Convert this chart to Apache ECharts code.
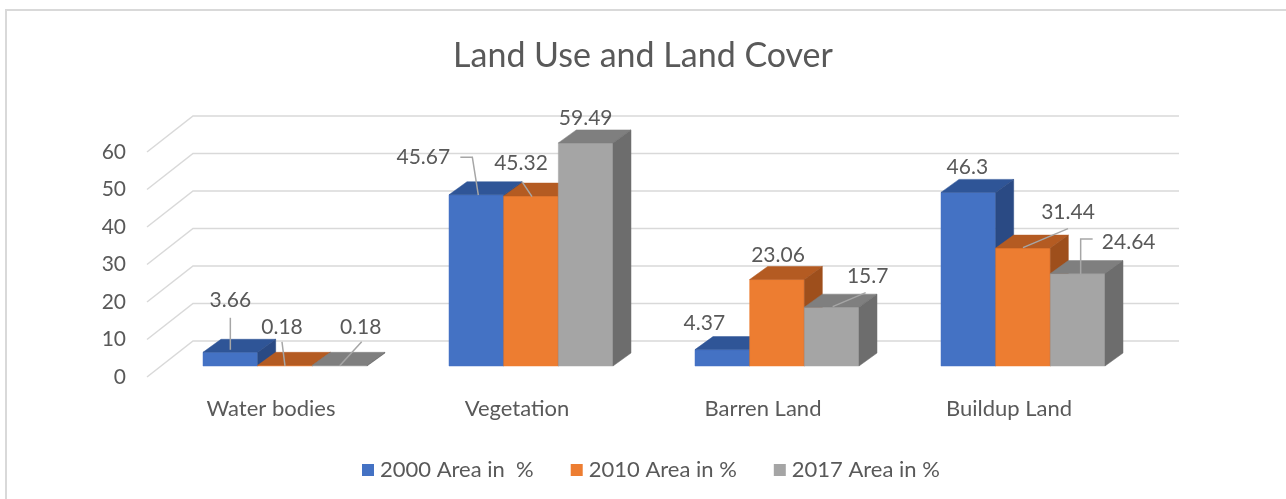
<!DOCTYPE html>
<html><head><meta charset="utf-8">
<script src="https://cdn.jsdelivr.net/npm/echarts@6/dist/echarts.min.js"></script>
<style>html,body{margin:0;padding:0;background:#fff}#c{width:1286px;height:499px}</style>
</head><body><div id="c"></div>
<script>
// ---- data ----
const categories = ['Water bodies', 'Vegetation', 'Barren Land', 'Buildup Land'];
const seriesNames = ['2000 Area in  %', '2010 Area in %', '2017 Area in %'];
const area2000 = [3.66, 45.67, 4.37, 46.3];
const area2010 = [0.18, 45.32, 23.06, 31.44];
const area2017 = [0.18, 59.49, 15.7, 24.64];
const yTicks = [0, 10, 20, 30, 40, 50, 60];

// ---- styles ----
const FONT = 'Lato';
const TEXT = '#595959';
const GRID_C = '#D9D9D9';
const COLORS = [
  {front: '#4472C4', top: '#2F5597', side: '#2A4A84'},
  {front: '#ED7D31', top: '#B45B22', side: '#9E4F1C'},
  {front: '#A5A5A5', top: '#7F7F7F', side: '#6D6D6D'}
];
const GROUP_FRAC = 164 / 246;   // share of the category band used by the 3 bars
const FRONT_DX = 14, FRONT_DY = -11; // bars sit a bit behind the front plane
const BAR_DX = 18, BAR_DY = -13;     // bar depth
const FLOOR_DX = 46, FLOOR_DY = -36; // wall depth
// label offsets relative to the centre of each bar's top face
const LABEL_OFFSETS = [
  [[-9, -46], [-62, -31], [-27, -20], [-10, -19]],
  [[-12, -32], [-19, -26], [-8, -18], [36, -29]],
  [[12, -32], [-9, -18], [27, -24], [42, -25]]
];
const LEADERS = [
  [[[-9, -28], [-9, 4]], [[-25, -31], [-13, -31], [-7, 7]], null, null],
  [[[-12, -17], [-9, 7]], [[-18, -8], [-8, 7]], null, [[36, -13], [-9, 6]]],
  [[[13, -17], [-9, 7]], null, [[25, -8], [-8, 6]], [[6, -28], [-6, -28], [-6, 7]]]
];

const allValues = [area2000, area2010, area2017];

function barRender(s) {
  return function (params, api) {
    const i = api.value(0), v = api.value(1);
    const base = api.coord([i, 0]);
    const top = api.coord([i, v]);
    const band = api.size([1, 0])[0];
    const bw = band * GROUP_FRAC / 3;
    const x1 = base[0] - band * GROUP_FRAC / 2 + s * bw + FRONT_DX;
    const x2 = x1 + bw;
    const y0 = base[1] + FRONT_DY;
    const y1 = top[1] + FRONT_DY;
    const c = COLORS[s];
    const dx = BAR_DX, dy = BAR_DY;
    const children = [
      {type: 'polygon', shape: {points: [[x1, y1], [x2, y1], [x2, y0], [x1, y0]]},
        style: {fill: c.front, stroke: c.front, lineWidth: 0.5}},
      {type: 'polygon', shape: {points: [[x1, y1], [x2, y1], [x2 + dx, y1 + dy], [x1 + dx, y1 + dy]]},
        style: {fill: c.top, stroke: c.top, lineWidth: 0.5}},
      {type: 'polygon', shape: {points: [[x2, y1], [x2 + dx, y1 + dy], [x2 + dx, y0 + dy], [x2, y0]]},
        style: {fill: c.side, stroke: c.side, lineWidth: 0.5}}
    ];
    const cx = (x1 + x2) / 2 + dx / 2, cy = y1 + dy / 2;
    const off = LABEL_OFFSETS[s][i];
    children.push({type: 'text', z2: 100,
      style: {text: String(v), x: cx + off[0], y: cy + off[1], fill: TEXT,
        font: '21px ' + FONT, align: 'center', verticalAlign: 'middle'}});
    const ld = LEADERS[s][i];
    if (ld) {
      children.push({type: 'polyline', z2: 99,
        shape: {points: ld.map(p => [cx + p[0], cy + p[1]])},
        style: {stroke: '#A6A6A6', lineWidth: 1.5, fill: null}});
    }
    return {type: 'group', children: children};
  };
}

function gridRender(params, api) {
  const v = api.value(1);
  const y = api.coord([0, v])[1];
  const cs = params.coordSys;
  const x0 = cs.x - 1;
  return {type: 'group', children: [
    {type: 'polyline', shape: {points: [[x0, y], [x0 + FLOOR_DX, y + FLOOR_DY], [x0 + FLOOR_DX + cs.width + 2, y + FLOOR_DY]]},
      style: {stroke: GRID_C, lineWidth: 1.5, fill: null}}
  ]};
}

const chart = echarts.init(document.getElementById('c'), null, {renderer: 'canvas'});
const series = [{
  type: 'custom', name: 'grid', silent: true, z: 1,
  renderItem: gridRender,
  data: yTicks.map(t => [0, t]),
  encode: {x: 0, y: 1}
}];
allValues.forEach((vals, s) => {
  series.push({
    type: 'custom', name: seriesNames[s], z: 2,
    itemStyle: {color: COLORS[s].front},
    renderItem: barRender(s),
    data: vals.map((v, i) => [i, v]),
    encode: {x: 0, y: 1}
  });
});

chart.setOption({
  animation: false,
  backgroundColor: '#fff',
  textStyle: {fontFamily: FONT},
  graphic: [{type: 'rect', shape: {x: 6, y: 10, width: 1300, height: 520},
    style: {fill: null, stroke: GRID_C, lineWidth: 2}, silent: true, z: -10}],
  title: {text: 'Land Use and Land Cover', left: 'center', top: 34,
    textStyle: {fontFamily: FONT, fontWeight: 'normal', fontSize: 34, color: TEXT}},
  legend: {
    data: seriesNames, left: 357, top: 454, itemWidth: 12, itemHeight: 12, itemGap: 37,
    icon: 'rect',
    textStyle: {fontFamily: FONT, fontSize: 22, color: TEXT, padding: [0, 0, 0, 1]}
  },
  grid: {left: 148, right: 154, top: 152, bottom: 122, containLabel: false},
  xAxis: {
    type: 'category', data: categories, boundaryGap: true,
    axisLine: {show: false}, axisTick: {show: false},
    axisLabel: {color: TEXT, fontFamily: FONT, fontSize: 22, margin: 21}
  },
  yAxis: {
    type: 'value', min: 0, max: 60, interval: 10,
    axisLine: {show: false}, axisTick: {show: false}, splitLine: {show: false},
    axisLabel: {color: TEXT, fontFamily: FONT, fontSize: 21, margin: 22}
  },
  series: series
});
</script></body></html>
